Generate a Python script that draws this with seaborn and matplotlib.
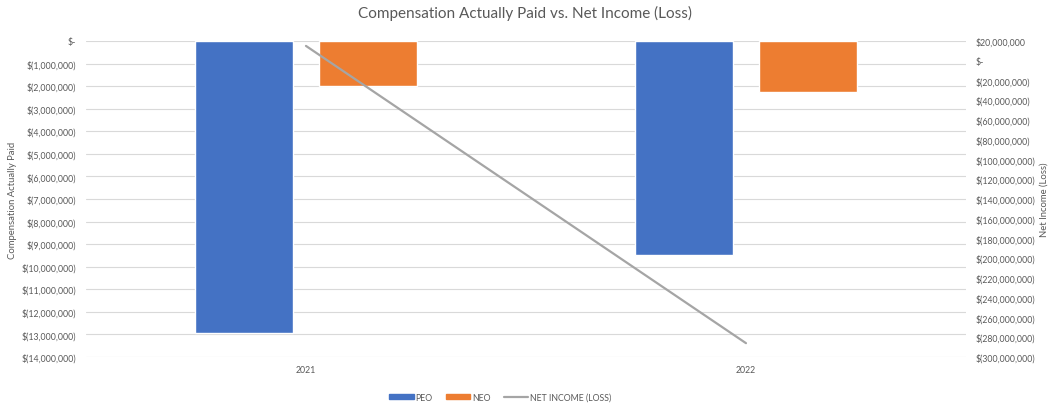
import pandas as pd
import numpy as np
import matplotlib.pyplot as plt
import matplotlib.ticker as mticker
from matplotlib.patches import Patch
from matplotlib.lines import Line2D
import seaborn as sns

years = ['2021', '2022']
peo_cap = [-12940000, -9480000]
neo_cap = [-2000000, -2260000]
net_income = [15000000, -286000000]

sns.set_theme(style='white')
plt.rcParams['font.family'] = ['Lato', 'DejaVu Sans']

txt = '#595959'
grid_c = '#D9D9D9'
colors = {'PEO': '#4472C4', 'NEO': '#ED7D31'}

df = pd.DataFrame({
    'Year': years * 2,
    'Group': ['PEO'] * 2 + ['NEO'] * 2,
    'Value': peo_cap + neo_cap,
})

fig = plt.figure(figsize=(10.51, 4.14), dpi=100)
ax = fig.add_axes([0.0818, 0.1353, 0.8373, 0.7633])

sns.barplot(data=df, x='Year', y='Value', hue='Group', palette=colors, saturation=1,
            width=0.564, gap=0.21, ax=ax, legend=False, zorder=2)

def left_fmt(v, pos):
    if abs(v) < 1:
        return '$-'
    if v < 0:
        return '$({:,.0f})'.format(-v)
    return '${:,.0f}'.format(v)

ax.set_ylim(-14000000, 0)
ax.yaxis.set_major_locator(mticker.MultipleLocator(1000000))
ax.yaxis.set_major_formatter(mticker.FuncFormatter(left_fmt))
ax.set_xlim(-0.5, 1.5)
ax.grid(axis='y', color=grid_c, linewidth=0.8, zorder=0)
ax.set_axisbelow(True)
for s in ax.spines.values():
    s.set_visible(False)
ax.tick_params(axis='y', length=0, labelsize=6.3, colors=txt, pad=7)
ax.tick_params(axis='x', length=0, labelsize=6.3, colors=txt, pad=6)
ax.set_xlabel('')
ax.set_ylabel('Compensation Actually Paid', fontsize=6.8, color=txt, labelpad=3)

ax2 = ax.twinx()
sns.lineplot(x=[0, 1], y=net_income, ax=ax2, color='#A5A5A5', linewidth=1.6)
ax2.set_ylim(-300000000, 20000000)
ax2.yaxis.set_major_locator(mticker.MultipleLocator(20000000))
ax2.yaxis.set_major_formatter(mticker.FuncFormatter(left_fmt))
for s in ax2.spines.values():
    s.set_visible(False)
ax2.tick_params(axis='y', length=0, labelsize=6.3, colors=txt, pad=7)
ax2.set_ylabel('Net Income (Loss)', fontsize=6.8, color=txt, labelpad=3)
ax2.set_xlim(-0.5, 1.5)

fig.suptitle('Compensation Actually Paid vs. Net Income (Loss)', fontsize=11,
             color=txt, y=0.985)

handles = [Patch(color=colors['PEO'], label='PEO'),
           Patch(color=colors['NEO'], label='NEO'),
           Line2D([0], [0], color='#A5A5A5', linewidth=1.6, label='NET INCOME (LOSS)')]
leg = fig.legend(handles=handles, loc='center', bbox_to_anchor=(0.476, 0.038), ncol=3,
                 frameon=False, fontsize=6.3, handlelength=2.8, handleheight=0.5,
                 columnspacing=1.5, handletextpad=0.2)
for t in leg.get_texts():
    t.set_color(txt)

fig.savefig('out.png', dpi=100)
